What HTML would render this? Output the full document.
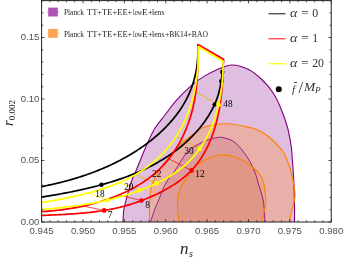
<!DOCTYPE html><html><head><meta charset="utf-8"><style>
html,body{margin:0;padding:0;background:#fff;}
body{width:344px;height:261px;position:relative;overflow:hidden;font-family:"Liberation Sans",sans-serif;}
.t{position:absolute;white-space:nowrap;line-height:1;}
.tk{font-size:9.6px;color:#505050;}
.s{font-family:"Liberation Serif",serif;color:#222;}
</style></head><body><div style="position:absolute;left:0;top:0;width:344px;height:261px;will-change:transform;">
<svg width="344" height="261" viewBox="0 0 344 261" style="position:absolute;left:0;top:0">
<defs><clipPath id="cpi"><path d="M150.50,222.00 C151.25,219.75 153.75,211.90 155.00,208.50 C156.25,205.10 156.62,204.92 158.00,201.60 C159.38,198.28 161.97,191.70 163.30,188.60 C164.63,185.50 164.62,185.35 166.00,183.00 C167.38,180.65 170.27,176.33 171.60,174.50 C172.93,172.67 171.27,175.85 174.00,172.00 C176.73,168.15 183.17,156.40 188.00,151.40 C192.83,146.40 198.50,144.23 203.00,142.00 C207.50,139.77 211.75,138.75 215.00,138.00 C218.25,137.25 219.17,136.75 222.50,137.50 C225.83,138.25 230.83,139.17 235.00,142.50 C239.17,145.83 244.17,152.50 247.50,157.50 C250.83,162.50 253.22,168.25 255.00,172.50 C256.78,176.75 256.82,178.25 258.20,183.00 C259.58,187.75 262.17,194.50 263.30,201.00 C264.43,207.50 264.72,218.50 265.00,222.00 Z"/></clipPath><clipPath id="cpo"><path d="M123.00,222.00 C123.13,220.00 123.13,214.23 123.80,210.00 C124.47,205.77 125.63,201.60 127.00,196.60 C128.37,191.60 130.58,184.10 132.00,180.00 C133.42,175.90 133.12,177.72 135.50,172.00 C137.88,166.28 143.13,152.87 146.30,145.70 C149.47,138.53 151.38,134.12 154.50,129.00 C157.62,123.88 161.32,119.80 165.00,115.00 C168.68,110.20 172.13,105.17 176.60,100.20 C181.07,95.23 187.23,89.17 191.80,85.20 C196.37,81.23 199.88,78.93 204.00,76.40 C208.12,73.87 211.83,71.90 216.50,70.00 C221.17,68.10 226.50,65.00 232.00,65.00 C237.50,65.00 244.37,67.42 249.50,70.00 C254.63,72.58 258.85,76.67 262.80,80.50 C266.75,84.33 270.25,88.50 273.20,93.00 C276.15,97.50 278.12,101.75 280.50,107.50 C282.88,113.25 285.75,121.25 287.50,127.50 C289.25,133.75 290.25,140.42 291.00,145.00 C291.75,149.58 291.54,149.17 292.00,155.00 C292.46,160.83 293.33,171.67 293.75,180.00 C294.17,188.33 294.38,198.00 294.50,205.00 C294.62,212.00 294.50,219.17 294.50,222.00 Z"/></clipPath><clipPath id="plot"><rect x="41.60" y="0.60" width="289.65" height="221.40"/></clipPath></defs>
<g clip-path="url(#plot)">
<path d="M123.00,222.00 C123.13,220.00 123.13,214.23 123.80,210.00 C124.47,205.77 125.63,201.60 127.00,196.60 C128.37,191.60 130.58,184.10 132.00,180.00 C133.42,175.90 133.12,177.72 135.50,172.00 C137.88,166.28 143.13,152.87 146.30,145.70 C149.47,138.53 151.38,134.12 154.50,129.00 C157.62,123.88 161.32,119.80 165.00,115.00 C168.68,110.20 172.13,105.17 176.60,100.20 C181.07,95.23 187.23,89.17 191.80,85.20 C196.37,81.23 199.88,78.93 204.00,76.40 C208.12,73.87 211.83,71.90 216.50,70.00 C221.17,68.10 226.50,65.00 232.00,65.00 C237.50,65.00 244.37,67.42 249.50,70.00 C254.63,72.58 258.85,76.67 262.80,80.50 C266.75,84.33 270.25,88.50 273.20,93.00 C276.15,97.50 278.12,101.75 280.50,107.50 C282.88,113.25 285.75,121.25 287.50,127.50 C289.25,133.75 290.25,140.42 291.00,145.00 C291.75,149.58 291.54,149.17 292.00,155.00 C292.46,160.83 293.33,171.67 293.75,180.00 C294.17,188.33 294.38,198.00 294.50,205.00 C294.62,212.00 294.50,219.17 294.50,222.00 Z" fill="#DFBEDF"/>
<path d="M149.50,222.00 C149.50,219.17 149.25,210.67 149.50,205.00 C149.75,199.33 150.33,192.00 151.00,188.00 C151.67,184.00 152.58,183.17 153.50,181.00 C154.42,178.83 155.38,177.08 156.50,175.00 C157.62,172.92 158.87,170.50 160.20,168.50 C161.53,166.50 163.03,164.83 164.50,163.00 C165.97,161.17 166.98,160.03 169.00,157.50 C171.02,154.97 172.00,152.13 176.60,147.80 C181.20,143.47 192.20,134.87 196.60,131.50 C201.00,128.13 200.77,128.60 203.00,127.60 C205.23,126.60 205.83,126.13 210.00,125.50 C214.17,124.87 221.33,123.45 228.00,123.80 C234.67,124.15 244.67,126.40 250.00,127.60 C255.33,128.80 256.25,128.93 260.00,131.00 C263.75,133.07 268.75,136.67 272.50,140.00 C276.25,143.33 280.42,148.50 282.50,151.00 C284.58,153.50 283.54,151.42 285.00,155.00 C286.46,158.58 289.58,165.83 291.25,172.50 C292.92,179.17 295.00,188.33 295.00,195.00 C295.00,201.67 292.17,208.00 291.25,212.50 C290.33,217.00 289.79,220.42 289.50,222.00 Z" fill="#FFDFBF"/>
<path d="M149.50,222.00 C149.50,219.17 149.25,210.67 149.50,205.00 C149.75,199.33 150.33,192.00 151.00,188.00 C151.67,184.00 152.58,183.17 153.50,181.00 C154.42,178.83 155.38,177.08 156.50,175.00 C157.62,172.92 158.87,170.50 160.20,168.50 C161.53,166.50 163.03,164.83 164.50,163.00 C165.97,161.17 166.98,160.03 169.00,157.50 C171.02,154.97 172.00,152.13 176.60,147.80 C181.20,143.47 192.20,134.87 196.60,131.50 C201.00,128.13 200.77,128.60 203.00,127.60 C205.23,126.60 205.83,126.13 210.00,125.50 C214.17,124.87 221.33,123.45 228.00,123.80 C234.67,124.15 244.67,126.40 250.00,127.60 C255.33,128.80 256.25,128.93 260.00,131.00 C263.75,133.07 268.75,136.67 272.50,140.00 C276.25,143.33 280.42,148.50 282.50,151.00 C284.58,153.50 283.54,151.42 285.00,155.00 C286.46,158.58 289.58,165.83 291.25,172.50 C292.92,179.17 295.00,188.33 295.00,195.00 C295.00,201.67 292.17,208.00 291.25,212.50 C290.33,217.00 289.79,220.42 289.50,222.00 Z" fill="#E8B0A8" clip-path="url(#cpo)"/>
<path d="M150.50,222.00 C151.25,219.75 153.75,211.90 155.00,208.50 C156.25,205.10 156.62,204.92 158.00,201.60 C159.38,198.28 161.97,191.70 163.30,188.60 C164.63,185.50 164.62,185.35 166.00,183.00 C167.38,180.65 170.27,176.33 171.60,174.50 C172.93,172.67 171.27,175.85 174.00,172.00 C176.73,168.15 183.17,156.40 188.00,151.40 C192.83,146.40 198.50,144.23 203.00,142.00 C207.50,139.77 211.75,138.75 215.00,138.00 C218.25,137.25 219.17,136.75 222.50,137.50 C225.83,138.25 230.83,139.17 235.00,142.50 C239.17,145.83 244.17,152.50 247.50,157.50 C250.83,162.50 253.22,168.25 255.00,172.50 C256.78,176.75 256.82,178.25 258.20,183.00 C259.58,187.75 262.17,194.50 263.30,201.00 C264.43,207.50 264.72,218.50 265.00,222.00 Z" fill="#DC9C9D"/>
<path d="M179.00,222.00 C178.73,219.17 177.23,210.57 177.40,205.00 C177.57,199.43 178.48,193.00 180.00,188.60 C181.52,184.20 184.42,181.91 186.50,178.60 C188.58,175.29 189.42,171.85 192.50,168.75 C195.58,165.65 200.42,162.29 205.00,160.00 C209.58,157.71 215.00,155.50 220.00,155.00 C225.00,154.50 230.00,155.33 235.00,157.00 C240.00,158.67 245.83,162.00 250.00,165.00 C254.17,168.00 257.73,172.00 260.00,175.00 C262.27,178.00 262.68,179.67 263.60,183.00 C264.52,186.33 265.18,191.33 265.50,195.00 C265.82,198.67 266.17,200.50 265.50,205.00 C264.83,209.50 262.17,219.17 261.50,222.00 Z" fill="#E8A890"/>
<path d="M179.00,222.00 C178.73,219.17 177.23,210.57 177.40,205.00 C177.57,199.43 178.48,193.00 180.00,188.60 C181.52,184.20 184.42,181.91 186.50,178.60 C188.58,175.29 189.42,171.85 192.50,168.75 C195.58,165.65 200.42,162.29 205.00,160.00 C209.58,157.71 215.00,155.50 220.00,155.00 C225.00,154.50 230.00,155.33 235.00,157.00 C240.00,158.67 245.83,162.00 250.00,165.00 C254.17,168.00 257.73,172.00 260.00,175.00 C262.27,178.00 262.68,179.67 263.60,183.00 C264.52,186.33 265.18,191.33 265.50,195.00 C265.82,198.67 266.17,200.50 265.50,205.00 C264.83,209.50 262.17,219.17 261.50,222.00 Z" fill="#E09785" clip-path="url(#cpi)"/>
<path d="M123.00,222.00 C123.13,220.00 123.13,214.23 123.80,210.00 C124.47,205.77 125.63,201.60 127.00,196.60 C128.37,191.60 130.58,184.10 132.00,180.00 C133.42,175.90 133.12,177.72 135.50,172.00 C137.88,166.28 143.13,152.87 146.30,145.70 C149.47,138.53 151.38,134.12 154.50,129.00 C157.62,123.88 161.32,119.80 165.00,115.00 C168.68,110.20 172.13,105.17 176.60,100.20 C181.07,95.23 187.23,89.17 191.80,85.20 C196.37,81.23 199.88,78.93 204.00,76.40 C208.12,73.87 211.83,71.90 216.50,70.00 C221.17,68.10 226.50,65.00 232.00,65.00 C237.50,65.00 244.37,67.42 249.50,70.00 C254.63,72.58 258.85,76.67 262.80,80.50 C266.75,84.33 270.25,88.50 273.20,93.00 C276.15,97.50 278.12,101.75 280.50,107.50 C282.88,113.25 285.75,121.25 287.50,127.50 C289.25,133.75 290.25,140.42 291.00,145.00 C291.75,149.58 291.54,149.17 292.00,155.00 C292.46,160.83 293.33,171.67 293.75,180.00 C294.17,188.33 294.38,198.00 294.50,205.00 C294.62,212.00 294.50,219.17 294.50,222.00" fill="none" stroke="#800080" stroke-width="1.1"/>
<path d="M150.50,222.00 C151.25,219.75 153.75,211.90 155.00,208.50 C156.25,205.10 156.62,204.92 158.00,201.60 C159.38,198.28 161.97,191.70 163.30,188.60 C164.63,185.50 164.62,185.35 166.00,183.00 C167.38,180.65 170.27,176.33 171.60,174.50 C172.93,172.67 171.27,175.85 174.00,172.00 C176.73,168.15 183.17,156.40 188.00,151.40 C192.83,146.40 198.50,144.23 203.00,142.00 C207.50,139.77 211.75,138.75 215.00,138.00 C218.25,137.25 219.17,136.75 222.50,137.50 C225.83,138.25 230.83,139.17 235.00,142.50 C239.17,145.83 244.17,152.50 247.50,157.50 C250.83,162.50 253.22,168.25 255.00,172.50 C256.78,176.75 256.82,178.25 258.20,183.00 C259.58,187.75 262.17,194.50 263.30,201.00 C264.43,207.50 264.72,218.50 265.00,222.00" fill="none" stroke="#800080" stroke-width="0.8"/>
<path d="M149.50,222.00 C149.50,219.17 149.25,210.67 149.50,205.00 C149.75,199.33 150.33,192.00 151.00,188.00 C151.67,184.00 152.58,183.17 153.50,181.00 C154.42,178.83 155.38,177.08 156.50,175.00 C157.62,172.92 158.87,170.50 160.20,168.50 C161.53,166.50 163.03,164.83 164.50,163.00 C165.97,161.17 166.98,160.03 169.00,157.50 C171.02,154.97 172.00,152.13 176.60,147.80 C181.20,143.47 192.20,134.87 196.60,131.50 C201.00,128.13 200.77,128.60 203.00,127.60 C205.23,126.60 205.83,126.13 210.00,125.50 C214.17,124.87 221.33,123.45 228.00,123.80 C234.67,124.15 244.67,126.40 250.00,127.60 C255.33,128.80 256.25,128.93 260.00,131.00 C263.75,133.07 268.75,136.67 272.50,140.00 C276.25,143.33 280.42,148.50 282.50,151.00 C284.58,153.50 283.54,151.42 285.00,155.00 C286.46,158.58 289.58,165.83 291.25,172.50 C292.92,179.17 295.00,188.33 295.00,195.00 C295.00,201.67 292.17,208.00 291.25,212.50 C290.33,217.00 289.79,220.42 289.50,222.00" fill="none" stroke="#FF8000" stroke-width="1.1"/>
<path d="M179.00,222.00 C178.73,219.17 177.23,210.57 177.40,205.00 C177.57,199.43 178.48,193.00 180.00,188.60 C181.52,184.20 184.42,181.91 186.50,178.60 C188.58,175.29 189.42,171.85 192.50,168.75 C195.58,165.65 200.42,162.29 205.00,160.00 C209.58,157.71 215.00,155.50 220.00,155.00 C225.00,154.50 230.00,155.33 235.00,157.00 C240.00,158.67 245.83,162.00 250.00,165.00 C254.17,168.00 257.73,172.00 260.00,175.00 C262.27,178.00 262.68,179.67 263.60,183.00 C264.52,186.33 265.18,191.33 265.50,195.00 C265.82,198.67 266.17,200.50 265.50,205.00 C264.83,209.50 262.17,219.17 261.50,222.00" fill="none" stroke="#FF8000" stroke-width="1.1"/>
<path d="M41.50,186.60 L42.92,186.33 L44.34,186.05 L45.77,185.76 L47.19,185.47 L48.61,185.17 L50.03,184.87 L51.45,184.56 L52.87,184.24 L54.29,183.92 L55.70,183.59 L57.12,183.26 L58.54,182.92 L59.95,182.57 L61.36,182.22 L62.77,181.86 L64.19,181.49 L65.59,181.12 L67.00,180.74 L68.41,180.35 L69.81,179.96 L71.21,179.56 L72.61,179.16 L74.01,178.74 L75.41,178.33 L76.80,177.90 L78.20,177.47 L79.59,177.03 L80.97,176.58 L82.36,176.13 L83.74,175.66 L85.12,175.20 L86.50,174.72 L87.88,174.24 L89.25,173.75 L90.62,173.25 L91.99,172.75 L93.35,172.24 L94.71,171.72 L96.07,171.19 L97.43,170.66 L98.78,170.12 L100.13,169.57 L101.47,169.01 L102.81,168.45 L104.15,167.87 L105.48,167.29 L106.81,166.71 L108.14,166.11 L109.46,165.51 L110.78,164.90 L112.10,164.28 L113.41,163.65 L114.71,163.01 L116.02,162.37 L117.31,161.72 L118.61,161.06 L119.90,160.39 L121.18,159.72 L122.46,159.03 L123.74,158.34 L125.01,157.64 L126.27,156.93 L127.53,156.21 L128.79,155.48 L130.04,154.75 L131.28,154.00 L132.52,153.25 L133.76,152.49 L134.99,151.72 L136.21,150.94 L137.43,150.15 L138.64,149.36 L139.85,148.55 L141.05,147.74 L142.25,146.91 L143.44,146.08 L144.62,145.24 L145.79,144.39 L146.96,143.53 L148.13,142.65 L149.28,141.77 L150.43,140.88 L151.57,139.98 L152.70,139.07 L153.83,138.15 L154.94,137.21 L156.05,136.27 L157.15,135.31 L158.24,134.35 L159.33,133.37 L160.40,132.38 L161.47,131.39 L162.53,130.38 L163.57,129.36 L164.61,128.33 L165.64,127.29 L166.66,126.24 L167.67,125.18 L168.67,124.11 L169.66,123.03 L170.64,121.94 L171.60,120.84 L172.55,119.73 L173.49,118.61 L174.42,117.48 L175.33,116.34 L176.22,115.18 L177.11,114.02 L177.97,112.85 L178.82,111.67 L179.66,110.48 L180.48,109.27 L181.28,108.06 L182.06,106.84 L182.83,105.61 L183.58,104.37 L184.31,103.12 L185.02,101.86 L185.72,100.59 L186.39,99.31 L187.05,98.02 L187.69,96.72 L188.31,95.42 L188.91,94.10 L189.49,92.78 L190.06,91.45 L190.60,90.11 L191.13,88.76 L191.64,87.41 L192.12,86.05 L192.59,84.68 L193.04,83.30 L193.47,81.92 L193.88,80.53 L194.26,79.13 L194.63,77.72 L194.98,76.31 L195.31,74.90 L195.62,73.47 L195.90,72.04 L196.17,70.61 L196.42,69.17 L196.65,67.73 L196.86,66.28 L197.05,64.83 L197.23,63.38 L197.39,61.93 L197.53,60.47 L197.65,59.01 L197.76,57.56 L197.85,56.10 L197.92,54.64 L197.98,53.19 L198.02,51.73 L198.04,50.28 L198.05,48.83 L198.05,47.38 L198.03,45.94 L198.00,44.50" fill="none" stroke="#000" stroke-width="1.7" stroke-linejoin="round"/>
<path d="M41.50,197.20 L43.02,196.95 L44.54,196.70 L46.07,196.44 L47.59,196.19 L49.12,195.93 L50.65,195.67 L52.18,195.40 L53.72,195.13 L55.26,194.86 L56.79,194.59 L58.34,194.31 L59.88,194.03 L61.42,193.75 L62.97,193.46 L64.51,193.17 L66.06,192.87 L67.61,192.57 L69.16,192.27 L70.71,191.96 L72.26,191.65 L73.81,191.33 L75.36,191.01 L76.91,190.68 L78.46,190.35 L80.01,190.01 L81.56,189.67 L83.11,189.33 L84.66,188.97 L86.21,188.62 L87.76,188.25 L89.31,187.89 L90.86,187.51 L92.40,187.13 L93.95,186.74 L95.49,186.35 L97.03,185.95 L98.57,185.55 L100.11,185.13 L101.64,184.71 L103.18,184.29 L104.71,183.86 L106.24,183.42 L107.77,182.97 L109.29,182.52 L110.81,182.05 L112.33,181.59 L113.85,181.11 L115.36,180.62 L116.87,180.13 L118.38,179.63 L119.88,179.12 L121.38,178.61 L122.87,178.08 L124.37,177.55 L125.85,177.01 L127.34,176.45 L128.82,175.89 L130.29,175.33 L131.76,174.75 L133.23,174.16 L134.69,173.56 L136.14,172.96 L137.59,172.34 L139.04,171.72 L140.48,171.08 L141.91,170.44 L143.34,169.78 L144.77,169.12 L146.19,168.44 L147.60,167.76 L149.00,167.06 L150.40,166.35 L151.80,165.63 L153.18,164.91 L154.56,164.17 L155.94,163.41 L157.30,162.65 L158.66,161.88 L160.01,161.09 L161.36,160.30 L162.70,159.49 L164.03,158.67 L165.35,157.83 L166.66,156.99 L167.97,156.13 L169.27,155.26 L170.56,154.38 L171.84,153.49 L173.12,152.58 L174.38,151.66 L175.64,150.73 L176.88,149.78 L178.12,148.82 L179.35,147.85 L180.57,146.87 L181.78,145.87 L182.99,144.85 L184.18,143.83 L185.36,142.78 L186.53,141.73 L187.69,140.66 L188.85,139.58 L189.99,138.48 L191.12,137.37 L192.24,136.24 L193.34,135.10 L194.44,133.95 L195.52,132.78 L196.58,131.61 L197.63,130.41 L198.67,129.21 L199.69,127.99 L200.70,126.76 L201.68,125.51 L202.66,124.25 L203.61,122.99 L204.54,121.70 L205.46,120.41 L206.36,119.10 L207.23,117.79 L208.09,116.46 L208.92,115.12 L209.74,113.77 L210.53,112.40 L211.29,111.03 L212.04,109.64 L212.76,108.25 L213.46,106.84 L214.13,105.42 L214.77,103.99 L215.39,102.56 L215.99,101.11 L216.55,99.65 L217.09,98.18 L217.60,96.70 L218.08,95.22 L218.54,93.72 L218.96,92.21 L219.35,90.70 L219.71,89.17 L220.05,87.64 L220.36,86.10 L220.65,84.56 L220.92,83.01 L221.17,81.45 L221.40,79.89 L221.61,78.33 L221.81,76.76 L221.99,75.19 L222.17,73.62 L222.33,72.04 L222.48,70.47 L222.63,68.90 L222.78,67.32 L222.92,65.75 L223.05,64.18 L223.19,62.62 L223.33,61.06 L223.48,59.50" fill="none" stroke="#000" stroke-width="1.7" stroke-linejoin="round"/>
<circle cx="101.50" cy="184.80" r="2.2" fill="#000"/>
<circle cx="214.60" cy="104.60" r="2.2" fill="#000"/>
<circle cx="221.30" cy="81.20" r="2.2" fill="#000"/>
<circle cx="222.30" cy="72.00" r="2.2" fill="#000"/>
<line x1="83.30" y1="206.00" x2="104.20" y2="210.50" stroke="#F00000" stroke-width="0.7"/>
<line x1="117.80" y1="194.70" x2="141.40" y2="200.60" stroke="#F00000" stroke-width="0.7"/>
<line x1="169.00" y1="158.80" x2="191.50" y2="170.50" stroke="#F00000" stroke-width="0.7"/>
<path d="M41.50,211.60 L43.16,211.51 L44.81,211.40 L46.47,211.29 L48.12,211.17 L49.77,211.04 L51.42,210.90 L53.07,210.75 L54.71,210.59 L56.35,210.42 L57.99,210.24 L59.63,210.05 L61.27,209.85 L62.91,209.64 L64.54,209.42 L66.17,209.19 L67.80,208.95 L69.42,208.70 L71.05,208.44 L72.67,208.17 L74.29,207.89 L75.91,207.59 L77.52,207.29 L79.13,206.97 L80.74,206.64 L82.35,206.30 L83.95,205.95 L85.56,205.59 L87.16,205.21 L88.75,204.83 L90.35,204.43 L91.94,204.02 L93.53,203.59 L95.12,203.16 L96.70,202.71 L98.28,202.25 L99.86,201.78 L101.43,201.29 L103.01,200.79 L104.58,200.28 L106.14,199.76 L107.71,199.22 L109.27,198.67 L110.82,198.10 L112.38,197.52 L113.93,196.93 L115.48,196.33 L117.02,195.71 L118.56,195.07 L120.09,194.43 L121.62,193.76 L123.14,193.09 L124.65,192.40 L126.16,191.69 L127.66,190.97 L129.15,190.23 L130.64,189.47 L132.11,188.71 L133.58,187.92 L135.03,187.12 L136.47,186.30 L137.91,185.47 L139.33,184.62 L140.73,183.75 L142.13,182.86 L143.51,181.96 L144.88,181.04 L146.24,180.10 L147.58,179.15 L148.90,178.17 L150.21,177.18 L151.51,176.17 L152.78,175.14 L154.04,174.10 L155.28,173.03 L156.51,171.95 L157.71,170.84 L158.90,169.72 L160.07,168.58 L161.22,167.42 L162.36,166.25 L163.47,165.05 L164.57,163.84 L165.65,162.62 L166.71,161.37 L167.75,160.12 L168.78,158.84 L169.79,157.55 L170.77,156.25 L171.74,154.93 L172.70,153.60 L173.63,152.25 L174.54,150.89 L175.44,149.52 L176.32,148.14 L177.18,146.74 L178.02,145.33 L178.85,143.90 L179.65,142.47 L180.44,141.02 L181.21,139.56 L181.96,138.10 L182.69,136.62 L183.40,135.13 L184.10,133.63 L184.78,132.12 L185.44,130.61 L186.08,129.08 L186.70,127.55 L187.30,126.01 L187.89,124.46 L188.45,122.90 L189.00,121.33 L189.53,119.76 L190.04,118.19 L190.53,116.60 L191.01,115.01 L191.46,113.42 L191.90,111.82 L192.32,110.21 L192.72,108.60 L193.10,106.98 L193.46,105.37 L193.80,103.74 L194.13,102.12 L194.44,100.49 L194.74,98.85 L195.01,97.22 L195.27,95.58 L195.52,93.94 L195.75,92.29 L195.97,90.65 L196.17,89.00 L196.36,87.35 L196.54,85.70 L196.70,84.05 L196.86,82.39 L197.00,80.74 L197.13,79.08 L197.24,77.43 L197.35,75.77 L197.45,74.11 L197.54,72.46 L197.62,70.80 L197.69,69.14 L197.75,67.49 L197.80,65.83 L197.85,64.18 L197.89,62.53 L197.92,60.88 L197.95,59.23 L197.97,57.58 L197.99,55.94 L198.00,54.30 L198.01,52.66 L198.01,51.02 L198.02,49.39 L198.01,47.75 L198.01,46.13 L198.00,44.50" fill="none" stroke="#FF0000" stroke-width="1.7" stroke-linejoin="round"/>
<path d="M41.50,215.50 L43.26,215.41 L45.01,215.33 L46.77,215.25 L48.53,215.17 L50.29,215.09 L52.04,215.01 L53.80,214.93 L55.55,214.84 L57.31,214.76 L59.06,214.67 L60.82,214.58 L62.57,214.49 L64.32,214.39 L66.08,214.30 L67.83,214.19 L69.58,214.09 L71.32,213.97 L73.07,213.86 L74.82,213.73 L76.56,213.61 L78.31,213.47 L80.05,213.33 L81.79,213.18 L83.53,213.03 L85.27,212.86 L87.01,212.69 L88.75,212.51 L90.48,212.32 L92.21,212.12 L93.94,211.91 L95.67,211.69 L97.40,211.46 L99.12,211.22 L100.85,210.97 L102.57,210.71 L104.29,210.43 L106.00,210.14 L107.72,209.84 L109.43,209.53 L111.14,209.20 L112.84,208.86 L114.55,208.50 L116.25,208.13 L117.95,207.74 L119.65,207.34 L121.34,206.92 L123.03,206.48 L124.72,206.03 L126.41,205.56 L128.09,205.08 L129.77,204.57 L131.44,204.06 L133.12,203.52 L134.78,202.97 L136.45,202.40 L138.11,201.82 L139.77,201.22 L141.42,200.61 L143.07,199.98 L144.71,199.34 L146.35,198.68 L147.98,198.01 L149.61,197.32 L151.24,196.61 L152.86,195.90 L154.47,195.16 L156.08,194.42 L157.68,193.65 L159.27,192.88 L160.86,192.09 L162.44,191.28 L164.01,190.45 L165.57,189.61 L167.12,188.75 L168.65,187.88 L170.17,186.98 L171.68,186.07 L173.18,185.14 L174.65,184.19 L176.12,183.22 L177.56,182.22 L178.98,181.21 L180.39,180.17 L181.78,179.12 L183.14,178.04 L184.48,176.93 L185.80,175.81 L187.10,174.66 L188.37,173.48 L189.61,172.29 L190.83,171.06 L192.03,169.81 L193.19,168.54 L194.33,167.24 L195.44,165.91 L196.52,164.56 L197.58,163.19 L198.61,161.80 L199.61,160.39 L200.59,158.96 L201.54,157.50 L202.47,156.03 L203.37,154.54 L204.24,153.03 L205.09,151.51 L205.92,149.96 L206.72,148.41 L207.50,146.84 L208.26,145.25 L208.99,143.66 L209.70,142.05 L210.38,140.42 L211.05,138.79 L211.69,137.15 L212.31,135.50 L212.90,133.84 L213.48,132.17 L214.03,130.49 L214.56,128.81 L215.07,127.12 L215.56,125.43 L216.03,123.73 L216.48,122.03 L216.91,120.32 L217.33,118.61 L217.72,116.89 L218.10,115.17 L218.46,113.44 L218.80,111.71 L219.13,109.98 L219.44,108.25 L219.73,106.51 L220.01,104.77 L220.28,103.03 L220.53,101.28 L220.76,99.54 L220.99,97.79 L221.20,96.04 L221.40,94.29 L221.59,92.54 L221.76,90.79 L221.93,89.04 L222.08,87.29 L222.23,85.54 L222.36,83.79 L222.49,82.04 L222.60,80.29 L222.71,78.55 L222.81,76.80 L222.91,75.06 L222.99,73.32 L223.08,71.58 L223.15,69.85 L223.22,68.11 L223.28,66.38 L223.34,64.66 L223.40,62.93 L223.45,61.22 L223.50,59.50" fill="none" stroke="#FF0000" stroke-width="1.7" stroke-linejoin="round"/>
<line x1="197.6" y1="44.3" x2="223.9" y2="59.6" stroke="#FF0000" stroke-width="1.8"/>
<circle cx="104.20" cy="210.50" r="2.4" fill="#FF0000"/>
<circle cx="141.40" cy="200.60" r="2.4" fill="#FF0000"/>
<circle cx="191.50" cy="170.50" r="2.4" fill="#FF0000"/>
<line x1="88.00" y1="192.80" x2="107.60" y2="200.20" stroke="#FFFF00" stroke-width="0.9" style="mix-blend-mode:multiply"/>
<line x1="119.50" y1="182.80" x2="139.40" y2="190.40" stroke="#FFFF00" stroke-width="0.9" style="mix-blend-mode:multiply"/>
<line x1="136.20" y1="175.00" x2="156.60" y2="183.40" stroke="#FFFF00" stroke-width="0.9" style="mix-blend-mode:multiply"/>
<line x1="176.50" y1="136.50" x2="199.70" y2="148.90" stroke="#FFFF00" stroke-width="0.9" style="mix-blend-mode:multiply"/>
<line x1="196.30" y1="92.00" x2="218.50" y2="104.80" stroke="#FFFF00" stroke-width="0.9" style="mix-blend-mode:multiply"/>
<path d="M41.50,202.70 L42.97,202.43 L44.45,202.17 L45.94,201.90 L47.43,201.64 L48.92,201.37 L50.42,201.10 L51.93,200.82 L53.44,200.54 L54.95,200.26 L56.47,199.98 L57.99,199.69 L59.52,199.40 L61.05,199.11 L62.58,198.81 L64.11,198.51 L65.65,198.20 L67.19,197.89 L68.73,197.58 L70.27,197.25 L71.81,196.93 L73.36,196.59 L74.91,196.25 L76.45,195.91 L78.00,195.56 L79.55,195.20 L81.09,194.84 L82.64,194.46 L84.19,194.08 L85.73,193.70 L87.27,193.30 L88.82,192.90 L90.36,192.49 L91.89,192.07 L93.43,191.64 L94.96,191.21 L96.50,190.76 L98.02,190.31 L99.55,189.84 L101.07,189.37 L102.58,188.88 L104.10,188.39 L105.61,187.88 L107.11,187.37 L108.61,186.84 L110.10,186.30 L111.59,185.75 L113.07,185.19 L114.55,184.62 L116.02,184.04 L117.49,183.44 L118.94,182.83 L120.39,182.21 L121.84,181.57 L123.27,180.92 L124.70,180.26 L126.12,179.59 L127.53,178.90 L128.93,178.19 L130.33,177.47 L131.71,176.74 L133.09,175.99 L134.45,175.23 L135.81,174.45 L137.16,173.66 L138.49,172.85 L139.82,172.03 L141.13,171.19 L142.43,170.33 L143.73,169.46 L145.01,168.57 L146.28,167.67 L147.53,166.75 L148.78,165.82 L150.01,164.87 L151.23,163.91 L152.43,162.93 L153.63,161.93 L154.81,160.93 L155.98,159.90 L157.13,158.87 L158.27,157.82 L159.39,156.75 L160.50,155.67 L161.60,154.58 L162.68,153.47 L163.75,152.35 L164.80,151.21 L165.84,150.06 L166.86,148.90 L167.86,147.72 L168.85,146.53 L169.83,145.33 L170.78,144.11 L171.72,142.88 L172.64,141.64 L173.55,140.38 L174.44,139.11 L175.31,137.83 L176.16,136.53 L177.00,135.23 L177.82,133.91 L178.62,132.58 L179.40,131.24 L180.17,129.88 L180.92,128.52 L181.65,127.14 L182.37,125.76 L183.07,124.36 L183.75,122.96 L184.42,121.54 L185.06,120.12 L185.70,118.69 L186.31,117.25 L186.91,115.80 L187.50,114.34 L188.06,112.88 L188.61,111.40 L189.15,109.92 L189.67,108.44 L190.17,106.94 L190.66,105.44 L191.13,103.94 L191.58,102.43 L192.02,100.91 L192.45,99.39 L192.86,97.86 L193.25,96.33 L193.63,94.79 L193.99,93.25 L194.33,91.70 L194.67,90.16 L194.98,88.60 L195.29,87.05 L195.57,85.49 L195.84,83.93 L196.10,82.37 L196.34,80.81 L196.57,79.24 L196.78,77.68 L196.98,76.11 L197.17,74.54 L197.34,72.97 L197.49,71.40 L197.63,69.83 L197.76,68.27 L197.87,66.70 L197.97,65.13 L198.06,63.56 L198.13,62.00 L198.18,60.44 L198.23,58.88 L198.26,57.32 L198.27,55.76 L198.28,54.21 L198.27,52.66 L198.24,51.12 L198.20,49.57 L198.15,48.04 L198.09,46.50" fill="none" stroke="#FFFF00" stroke-width="1.7" stroke-linejoin="round"/>
<path d="M41.50,209.60 L43.17,209.43 L44.83,209.27 L46.50,209.11 L48.17,208.94 L49.84,208.77 L51.51,208.61 L53.18,208.44 L54.85,208.26 L56.52,208.09 L58.19,207.91 L59.86,207.73 L61.53,207.55 L63.21,207.37 L64.88,207.18 L66.55,206.98 L68.22,206.78 L69.88,206.58 L71.55,206.37 L73.22,206.16 L74.89,205.94 L76.55,205.72 L78.22,205.49 L79.88,205.26 L81.54,205.01 L83.20,204.77 L84.86,204.51 L86.52,204.25 L88.18,203.98 L89.83,203.70 L91.49,203.41 L93.14,203.11 L94.79,202.81 L96.43,202.50 L98.08,202.17 L99.72,201.84 L101.36,201.50 L103.00,201.15 L104.64,200.78 L106.27,200.41 L107.90,200.03 L109.53,199.63 L111.15,199.22 L112.77,198.81 L114.39,198.38 L116.01,197.94 L117.62,197.49 L119.23,197.04 L120.84,196.57 L122.45,196.09 L124.05,195.60 L125.65,195.11 L127.25,194.61 L128.85,194.09 L130.44,193.57 L132.03,193.04 L133.62,192.51 L135.21,191.96 L136.79,191.41 L138.37,190.84 L139.94,190.27 L141.52,189.69 L143.09,189.09 L144.66,188.48 L146.22,187.86 L147.78,187.23 L149.33,186.58 L150.88,185.91 L152.43,185.24 L153.97,184.54 L155.51,183.83 L157.04,183.11 L158.56,182.36 L160.08,181.60 L161.60,180.82 L163.10,180.03 L164.60,179.21 L166.09,178.38 L167.57,177.53 L169.03,176.66 L170.49,175.77 L171.93,174.86 L173.35,173.94 L174.77,172.99 L176.17,172.03 L177.55,171.05 L178.91,170.05 L180.26,169.03 L181.59,167.99 L182.90,166.93 L184.18,165.85 L185.45,164.75 L186.70,163.63 L187.92,162.49 L189.12,161.33 L190.29,160.15 L191.44,158.95 L192.57,157.74 L193.67,156.50 L194.75,155.24 L195.80,153.97 L196.84,152.67 L197.85,151.36 L198.83,150.04 L199.80,148.69 L200.74,147.33 L201.66,145.96 L202.55,144.57 L203.43,143.16 L204.28,141.74 L205.11,140.31 L205.92,138.86 L206.71,137.40 L207.48,135.92 L208.23,134.43 L208.95,132.93 L209.66,131.42 L210.35,129.90 L211.01,128.36 L211.66,126.82 L212.28,125.27 L212.89,123.70 L213.47,122.13 L214.04,120.55 L214.59,118.95 L215.12,117.35 L215.63,115.75 L216.12,114.13 L216.59,112.51 L217.05,110.88 L217.48,109.25 L217.90,107.61 L218.30,105.97 L218.69,104.32 L219.05,102.66 L219.40,101.00 L219.74,99.34 L220.05,97.67 L220.35,96.01 L220.63,94.33 L220.90,92.66 L221.15,90.99 L221.38,89.31 L221.60,87.63 L221.80,85.96 L221.99,84.28 L222.16,82.60 L222.32,80.92 L222.46,79.25 L222.59,77.57 L222.70,75.90 L222.80,74.23 L222.88,72.57 L222.95,70.90 L223.01,69.24 L223.05,67.58 L223.08,65.93 L223.10,64.29 L223.10,62.64 L223.09,61.01" fill="none" stroke="#FFFF00" stroke-width="1.7" stroke-linejoin="round"/>
<line x1="197.7" y1="46.35" x2="223.3" y2="61.25" stroke="#FFFF00" stroke-width="1.7"/>
<circle cx="107.60" cy="200.20" r="2.4" fill="#FFFF00"/>
<circle cx="139.40" cy="190.40" r="2.4" fill="#FFFF00"/>
<circle cx="156.60" cy="183.40" r="2.4" fill="#FFFF00"/>
<circle cx="199.70" cy="148.90" r="2.4" fill="#FFFF00"/>
<circle cx="218.50" cy="104.80" r="2.4" fill="#FFFF00"/>
</g>
<rect x="41.60" y="0.60" width="289.65" height="221.40" fill="none" stroke="#222" stroke-width="1"/>
<path d="M41.60,222.00 h2.80 M331.25,222.00 h-2.80 M41.60,209.70 h1.70 M331.25,209.70 h-1.70 M41.60,197.40 h1.70 M331.25,197.40 h-1.70 M41.60,185.10 h1.70 M331.25,185.10 h-1.70 M41.60,172.80 h1.70 M331.25,172.80 h-1.70 M41.60,160.50 h2.80 M331.25,160.50 h-2.80 M41.60,148.20 h1.70 M331.25,148.20 h-1.70 M41.60,135.90 h1.70 M331.25,135.90 h-1.70 M41.60,123.60 h1.70 M331.25,123.60 h-1.70 M41.60,111.30 h1.70 M331.25,111.30 h-1.70 M41.60,99.00 h2.80 M331.25,99.00 h-2.80 M41.60,86.70 h1.70 M331.25,86.70 h-1.70 M41.60,74.40 h1.70 M331.25,74.40 h-1.70 M41.60,62.10 h1.70 M331.25,62.10 h-1.70 M41.60,49.80 h1.70 M331.25,49.80 h-1.70 M41.60,37.50 h2.80 M331.25,37.50 h-2.80 M41.60,25.20 h1.70 M331.25,25.20 h-1.70 M41.60,12.90 h1.70 M331.25,12.90 h-1.70 M41.60,0.60 h1.70 M331.25,0.60 h-1.70 M41.60,222.00 v-2.80 M41.60,0.60 v2.80 M49.88,222.00 v-1.70 M49.88,0.60 v1.70 M58.15,222.00 v-1.70 M58.15,0.60 v1.70 M66.43,222.00 v-1.70 M66.43,0.60 v1.70 M74.70,222.00 v-1.70 M74.70,0.60 v1.70 M82.98,222.00 v-2.80 M82.98,0.60 v2.80 M91.25,222.00 v-1.70 M91.25,0.60 v1.70 M99.53,222.00 v-1.70 M99.53,0.60 v1.70 M107.81,222.00 v-1.70 M107.81,0.60 v1.70 M116.08,222.00 v-1.70 M116.08,0.60 v1.70 M124.36,222.00 v-2.80 M124.36,0.60 v2.80 M132.63,222.00 v-1.70 M132.63,0.60 v1.70 M140.91,222.00 v-1.70 M140.91,0.60 v1.70 M149.18,222.00 v-1.70 M149.18,0.60 v1.70 M157.46,222.00 v-1.70 M157.46,0.60 v1.70 M165.74,222.00 v-2.80 M165.74,0.60 v2.80 M174.01,222.00 v-1.70 M174.01,0.60 v1.70 M182.29,222.00 v-1.70 M182.29,0.60 v1.70 M190.56,222.00 v-1.70 M190.56,0.60 v1.70 M198.84,222.00 v-1.70 M198.84,0.60 v1.70 M207.11,222.00 v-2.80 M207.11,0.60 v2.80 M215.39,222.00 v-1.70 M215.39,0.60 v1.70 M223.67,222.00 v-1.70 M223.67,0.60 v1.70 M231.94,222.00 v-1.70 M231.94,0.60 v1.70 M240.22,222.00 v-1.70 M240.22,0.60 v1.70 M248.49,222.00 v-2.80 M248.49,0.60 v2.80 M256.77,222.00 v-1.70 M256.77,0.60 v1.70 M265.04,222.00 v-1.70 M265.04,0.60 v1.70 M273.32,222.00 v-1.70 M273.32,0.60 v1.70 M281.60,222.00 v-1.70 M281.60,0.60 v1.70 M289.87,222.00 v-2.80 M289.87,0.60 v2.80 M298.15,222.00 v-1.70 M298.15,0.60 v1.70 M306.42,222.00 v-1.70 M306.42,0.60 v1.70 M314.70,222.00 v-1.70 M314.70,0.60 v1.70 M322.97,222.00 v-1.70 M322.97,0.60 v1.70 M331.25,222.00 v-2.80 M331.25,0.60 v2.80" stroke="#222" stroke-width="0.8" fill="none"/>
<line x1="268.5" y1="13.75" x2="285.5" y2="13.75" stroke="#333" stroke-width="1.2"/>
<line x1="268.5" y1="38.75" x2="285.5" y2="38.75" stroke="#FF3030" stroke-width="1.2"/>
<line x1="268.5" y1="63.75" x2="285.5" y2="63.75" stroke="#FFFF00" stroke-width="1.2"/>
<circle cx="278.75" cy="89.25" r="3" fill="#000"/>
<rect x="48.2" y="7.6" width="9.6" height="8.9" fill="#AE50B4"/><path d="M47.2,12 H59" stroke="#AE50B4" stroke-width="0.8"/>
<rect x="48.2" y="28.9" width="9.6" height="8.9" fill="#FFA54F"/><path d="M47.2,33.3 H59" stroke="#FFA54F" stroke-width="0.8"/>
</svg>
<div class="t tk" style="left:41.60px;top:225.6px;width:40px;text-align:center;margin-left:-20px">0.945</div>
<div class="t tk" style="left:82.98px;top:225.6px;width:40px;text-align:center;margin-left:-20px">0.950</div>
<div class="t tk" style="left:124.36px;top:225.6px;width:40px;text-align:center;margin-left:-20px">0.955</div>
<div class="t tk" style="left:165.74px;top:225.6px;width:40px;text-align:center;margin-left:-20px">0.960</div>
<div class="t tk" style="left:207.11px;top:225.6px;width:40px;text-align:center;margin-left:-20px">0.965</div>
<div class="t tk" style="left:248.49px;top:225.6px;width:40px;text-align:center;margin-left:-20px">0.970</div>
<div class="t tk" style="left:289.87px;top:225.6px;width:40px;text-align:center;margin-left:-20px">0.975</div>
<div class="t tk" style="left:331.25px;top:225.6px;width:40px;text-align:center;margin-left:-20px">0.980</div>
<div class="t tk" style="right:304.60px;top:216.80px;text-align:right">0.00</div>
<div class="t tk" style="right:304.60px;top:155.30px;text-align:right">0.05</div>
<div class="t tk" style="right:304.60px;top:93.80px;text-align:right">0.10</div>
<div class="t tk" style="right:304.60px;top:32.30px;text-align:right">0.15</div>
<div class="t s" style="left:100.00px;top:189.90px;font-size:9.3px;width:20px;margin-left:-10px;text-align:center;color:#000">18</div>
<div class="t s" style="left:128.80px;top:183.20px;font-size:9.3px;width:20px;margin-left:-10px;text-align:center;color:#000">20</div>
<div class="t s" style="left:156.75px;top:170.45px;font-size:9.3px;width:20px;margin-left:-10px;text-align:center;color:#000">22</div>
<div class="t s" style="left:189.00px;top:146.80px;font-size:9.3px;width:20px;margin-left:-10px;text-align:center;color:#000">30</div>
<div class="t s" style="left:228.00px;top:100.20px;font-size:9.3px;width:20px;margin-left:-10px;text-align:center;color:#000">48</div>
<div class="t s" style="left:110.00px;top:210.50px;font-size:9.3px;width:20px;margin-left:-10px;text-align:center;color:#000">7</div>
<div class="t s" style="left:147.70px;top:201.20px;font-size:9.3px;width:20px;margin-left:-10px;text-align:center;color:#000">8</div>
<div class="t s" style="left:200.00px;top:169.90px;font-size:9.3px;width:20px;margin-left:-10px;text-align:center;color:#000">12</div>
<div class="t s" style="left:63.80px;top:10.30px;font-size:7.2px;transform-origin:0 0;transform:scaleX(1.021)">Planck</div>
<div class="t s" style="left:87.00px;top:10.30px;font-size:7.2px;transform-origin:0 0;transform:scaleX(1.177)">TT+TE+EE+</div>
<div class="t s" style="left:132.50px;top:10.30px;font-size:7.2px;transform-origin:0 0;transform:scaleX(0.852)">low</div>
<div class="t s" style="left:141.50px;top:10.30px;font-size:7.2px;transform-origin:0 0;transform:scaleX(1.289)">E+</div>
<div class="t s" style="left:152.40px;top:10.30px;font-size:7.2px;transform-origin:0 0;transform:scaleX(1.069)">lens</div>
<div class="t s" style="left:63.80px;top:31.60px;font-size:7.2px;transform-origin:0 0;transform:scaleX(1.021)">Planck</div>
<div class="t s" style="left:87.00px;top:31.60px;font-size:7.2px;transform-origin:0 0;transform:scaleX(1.177)">TT+TE+EE+</div>
<div class="t s" style="left:132.50px;top:31.60px;font-size:7.2px;transform-origin:0 0;transform:scaleX(0.852)">low</div>
<div class="t s" style="left:141.50px;top:31.60px;font-size:7.2px;transform-origin:0 0;transform:scaleX(1.289)">E+</div>
<div class="t s" style="left:152.40px;top:31.60px;font-size:7.2px;transform-origin:0 0;transform:scaleX(1.069)">lens</div>
<div class="t s" style="left:165.30px;top:31.60px;font-size:7.2px;transform-origin:0 0;transform:scaleX(1.061)">+BK14+BAO</div>
<div class="t s" style="left:290.4px;top:7.87px;font-size:11.8px;color:#333;transform-origin:0 0;transform:scaleX(1.2)"><i>α</i></div>
<div class="t s" style="left:301.1px;top:7.87px;font-size:11.8px;color:#333;transform-origin:0 0;transform:scaleX(1.15)">=</div>
<div class="t s" style="left:312.2px;top:7.87px;font-size:11.8px;color:#333">0</div>
<div class="t s" style="left:290.4px;top:32.87px;font-size:11.8px;color:#333;transform-origin:0 0;transform:scaleX(1.2)"><i>α</i></div>
<div class="t s" style="left:301.1px;top:32.87px;font-size:11.8px;color:#333;transform-origin:0 0;transform:scaleX(1.15)">=</div>
<div class="t s" style="left:312.2px;top:32.87px;font-size:11.8px;color:#333">1</div>
<div class="t s" style="left:290.4px;top:57.87px;font-size:11.8px;color:#333;transform-origin:0 0;transform:scaleX(1.2)"><i>α</i></div>
<div class="t s" style="left:301.1px;top:57.87px;font-size:11.8px;color:#333;transform-origin:0 0;transform:scaleX(1.15)">=</div>
<div class="t s" style="left:312.2px;top:57.87px;font-size:11.8px;color:#333">20</div>
<div class="t s" style="left:291.9px;top:83.52px;font-size:11.2px;color:#333"><i>f</i></div>
<div style="position:absolute;left:294.3px;top:81.7px;width:3.2px;height:0.8px;background:#444"></div>
<div class="t s" style="left:298.4px;top:80.40px;font-size:16.6px;color:#333">/</div>
<div class="t s" style="left:303.5px;top:82.42px;font-size:11.8px;color:#333;transform-origin:0 0;transform:scaleX(1.14)"><i>M</i></div>
<div class="t s" style="left:314.8px;top:87.40px;font-size:8px;color:#333;transform-origin:0 0;transform:scaleX(1.15)"><i>P</i></div>
<div class="t s" style="left:180px;top:240px;font-size:17px;color:#222"><i>n</i><sub style="font-size:10px;font-style:italic;vertical-align:-3px;margin-left:0.6px;line-height:0">s</sub></div>
<div class="t s" style="left:0px;top:0px;font-size:14.5px;color:#222;transform-origin:0 0;transform:translate(0.5px,126px) rotate(-90deg)"><i>r</i><sub style="font-size:9px;vertical-align:-2.5px;line-height:0">0.002</sub></div>
</div></body></html>
